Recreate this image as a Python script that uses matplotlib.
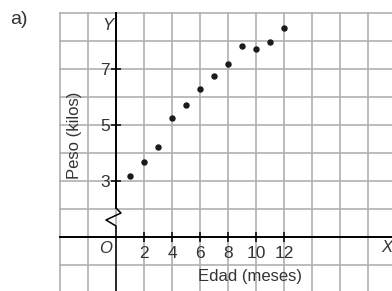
import matplotlib
matplotlib.use("Agg")
import matplotlib.pyplot as plt

# Data
edad = [1, 2, 3, 4, 5, 6, 7, 8, 9, 10, 11, 12]
peso = [3.18, 3.69, 4.2, 5.24, 5.71, 6.27, 6.75, 7.17, 7.83, 7.70, 7.98, 8.46]
xticks = [2, 4, 6, 8, 10, 12]
yticks = [3, 5, 7]

W, H = 392, 291
fig = plt.figure(figsize=(W / 100, H / 100), dpi=100)
plt.rcParams['font.family'] = ['Liberation Sans', 'DejaVu Sans']
txt = '#333333'
fs = 12

ax = fig.add_axes([60 / W, 0, 332 / W, 278 / H])
ax.set_xlim(-4, 276 / 14)
ax.set_ylim(3 + (181 - 291) / 28, 9)
ax.patch.set_alpha(0)

gcol = '#b0b0b0'
for gx in range(-4, 20, 2):
    ax.axvline(gx, color=gcol, lw=1.2, zorder=0, clip_on=False)
for gy in range(0, 10):
    ax.axhline(gy, color=gcol, lw=1.2, zorder=0, clip_on=False)

for s in ['top', 'right']:
    ax.spines[s].set_visible(False)
ax.spines['left'].set_position(('data', 0))
ax.spines['bottom'].set_position(('data', 1))
ax.spines['left'].set_bounds(2.036, 9)
ax.spines['left'].set_linewidth(1.4)
ax.spines['bottom'].set_linewidth(1.4)
ax.spines['left'].set_zorder(2)
ax.spines['bottom'].set_zorder(2)

# lower part of y axis + break zigzag
zx = [0, 0.357, -0.714, 0, 0]
zy = [2.036, 1.857, 1.607, 1.393, -0.93]
ax.plot(zx, zy, color='black', lw=1.1, zorder=2, clip_on=False)

ax.set_xticks(xticks)
ax.set_yticks(yticks)
ax.tick_params(axis='both', direction='inout', length=6.5, width=1.1,
               colors='black', labelcolor=txt, labelsize=fs + 0.5)
ax.tick_params(axis='x', pad=3)
ax.tick_params(axis='y', pad=1)

ax.scatter(edad, peso, s=13, color='#1a1a1a', zorder=3)

ax.text(-0.59, 8.54, 'Y', style='italic', fontsize=fs, color=txt, ha='center', va='center')
ax.text(-0.74, 0.607, 'O', style='italic', fontsize=fs, color=txt, ha='center', va='center')
ax.text(19.33, 0.618, 'X', style='italic', fontsize=fs, color=txt, ha='center', va='center')

fig.text(74 / W, 1 - 135 / H, 'Peso (kilos)', rotation=90, fontsize=fs, color=txt,
         ha='center', va='center')
fig.text(250 / W, 1 - 277 / H, 'Edad (meses)', fontsize=fs, color=txt,
         ha='center', va='center')
fig.text(19 / W, 1 - 20 / H, 'a)', fontsize=14, color=txt, ha='center', va='center')

fig.savefig('out.png', dpi=100)
